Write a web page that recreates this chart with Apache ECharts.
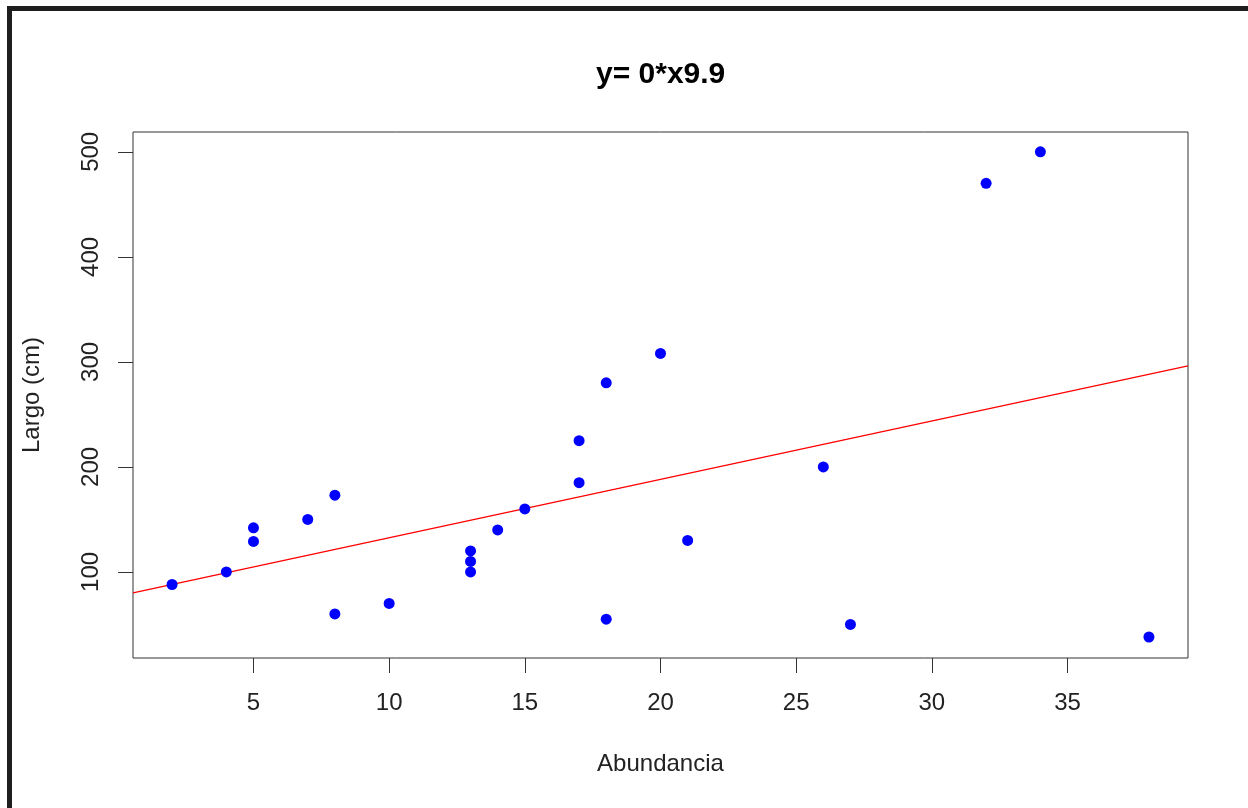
<!DOCTYPE html>
<html>
<head>
  <meta charset="utf-8">
  <title>Largo vs Abundancia</title>
  <script src="https://cdn.jsdelivr.net/npm/echarts@6/dist/echarts.min.js"></script>
  <style>
    html, body { margin: 0; padding: 0; background: #fff; }
    #frame { position: absolute; left: 7px; top: 6px; width: 1241px; height: 802px;
             border-left: 5px solid #1e1e1e; border-top: 5px solid #1e1e1e; }
    #main { position: absolute; left: 0; top: 0; width: 1248px; height: 808px; }
  </style>
</head>
<body>
  <div id="main"></div>
  <div id="frame"></div>
  <script type="text/javascript">
    var abundancia = [2, 4, 5, 5, 7, 8, 8, 10, 13, 13, 13, 14, 15, 17, 17, 18, 18, 20, 21, 26, 27, 32, 34, 38];
    var largo = [88, 100, 142, 129, 150, 173, 60, 70, 120, 110, 100, 140, 160, 225, 185, 280, 55, 308, 130, 200, 50, 470, 500, 38];

    // fitted line (abline) and axis setup
    var intercept = 76.9;
    var slope = 5.56;
    var xTicks = [5, 10, 15, 20, 25, 30, 35];
    var yTicks = [100, 200, 300, 400, 500];
    var xRange = [0.56, 39.44];
    var yRange = [18, 518.9];

    var font = 'Liberation Sans, Arial, sans-serif';

    var points = abundancia.map(function (x, i) { return [x, largo[i]]; });
    var fit = xRange.map(function (x) { return [x, intercept + slope * x]; });

    var myChart = echarts.init(document.getElementById('main'));

    var option = {
      animation: false,
      backgroundColor: '#fff',
      title: {
        text: 'y= 0*x9.9',
        left: 591,
        top: 55,
        textStyle: { fontFamily: font, fontSize: 30, fontWeight: 'bold', color: '#000' }
      },
      grid: {
        left: 133, top: 132, right: 60, bottom: 150,
        show: true,
        borderColor: '#333',
        borderWidth: 1
      },
      xAxis: {
        type: 'value',
        min: xRange[0],
        max: xRange[1],
        name: 'Abundancia',
        nameLocation: 'middle',
        nameGap: 94,
        nameTextStyle: { fontFamily: font, fontSize: 24, color: '#222' },
        axisLine: { show: false, onZero: false },
        splitLine: { show: false },
        axisTick: { show: true, length: 15, inside: false, customValues: xTicks,
                    lineStyle: { color: '#333', width: 1 } },
        axisLabel: { customValues: xTicks, margin: 33,
                     fontFamily: font, fontSize: 24, color: '#222' }
      },
      yAxis: {
        type: 'value',
        min: yRange[0],
        max: yRange[1],
        name: 'Largo (cm)',
        nameLocation: 'middle',
        nameGap: 89,
        nameRotate: 90,
        nameTextStyle: { fontFamily: font, fontSize: 24, color: '#222' },
        axisLine: { show: false, onZero: false },
        splitLine: { show: false },
        axisTick: { show: true, length: 15, inside: false, customValues: yTicks,
                    lineStyle: { color: '#333', width: 1 } },
        axisLabel: { customValues: yTicks, rotate: 90, margin: 30,
                     fontFamily: font, fontSize: 24, color: '#222' }
      },
      series: [
        {
          name: 'fit',
          type: 'line',
          data: fit,
          symbol: 'none',
          lineStyle: { color: '#ff0000', width: 1.3 },
          z: 2
        },
        {
          name: 'datos',
          type: 'scatter',
          data: points,
          symbol: 'circle',
          symbolSize: 11,
          itemStyle: { color: '#0000ff', opacity: 1 },
          z: 3
        }
      ]
    };
    myChart.setOption(option);
  </script>
</body>
</html>
